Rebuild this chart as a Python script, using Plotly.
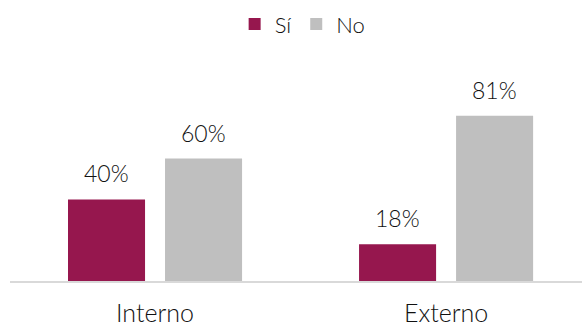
import plotly.graph_objects as go

categories = ["Interno", "Externo"]
si_values = [40, 18]
no_values = [60, 81]
series_names = ["Sí", "No"]
series_colors = ["#96174E", "#BFBFBF"]

FONT = "Lato"
WEIGHT = 300
fig = go.Figure()
for name, vals, col in zip(series_names, [si_values, no_values], series_colors):
    fig.add_trace(go.Bar(
        x=categories, y=vals, name=name,
        marker=dict(color=col, line=dict(width=0)),
        hoverinfo="skip",
    ))

# value labels above each bar, offset to the bar's slot within the group
slot_px = 48.5
for i, vals in enumerate([si_values, no_values]):
    shift = -slot_px if i == 0 else slot_px
    for cat, v in zip(categories, vals):
        fig.add_annotation(
            x=cat, y=v, text=f"{v}%", showarrow=False,
            xref="x", yref="y", yanchor="bottom", xshift=shift, yshift=10,
            font=dict(family=FONT, size=23, color="#111111", weight=WEIGHT),
        )

fig.update_layout(
    width=582, height=327,
    margin=dict(l=10, r=0, t=77, b=43),
    paper_bgcolor="white", plot_bgcolor="white",
    barmode="group", bargap=0.3333, bargroupgap=0.206,
    showlegend=True,
    legend=dict(
        orientation="h", x=0.52, xanchor="center", xref="container",
        y=0.99, yanchor="top", yref="container",
        font=dict(family=FONT, size=22, color="#111111", weight=WEIGHT),
        itemwidth=30, traceorder="normal",
    ),
    xaxis=dict(
        type="category", range=[-0.4983, 1.467],
        showline=True, linecolor="#D9D9D9", linewidth=2,
        showgrid=False, ticks="",
        tickfont=dict(family=FONT, size=25, color="#111111", weight=WEIGHT),
        ticklabelstandoff=9,
    ),
    yaxis=dict(range=[0, 100], visible=False, showgrid=False, zeroline=False),
)

fig.write_html("out.html")
